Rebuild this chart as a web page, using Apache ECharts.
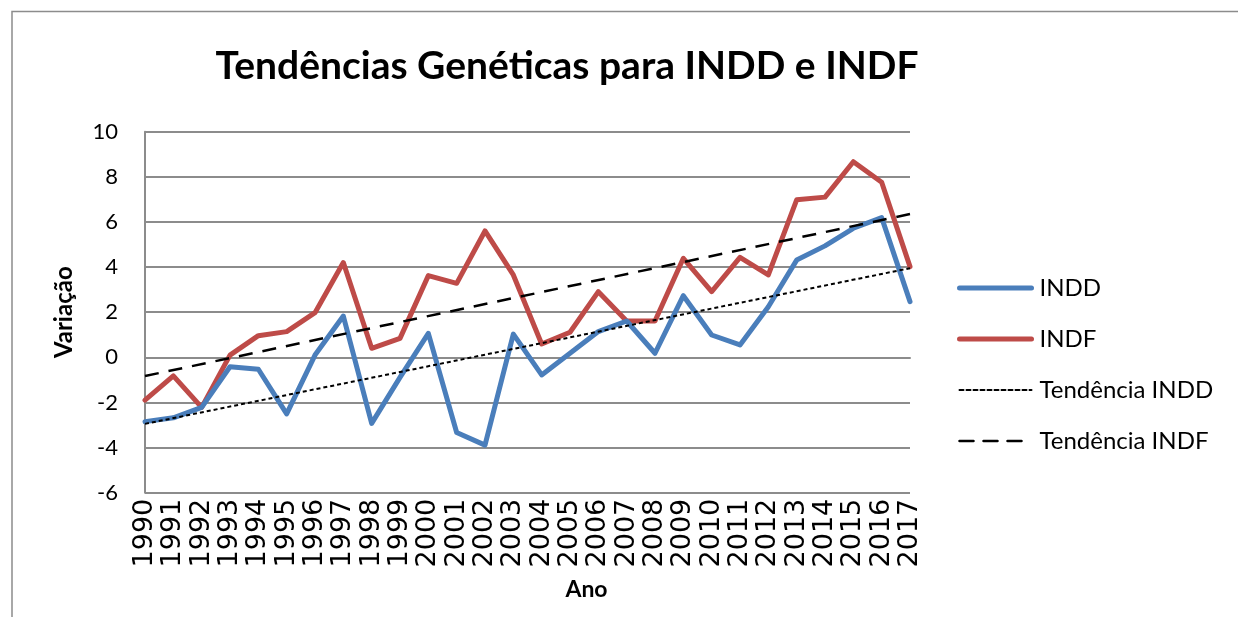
<!DOCTYPE html>
<html>
<head>
<meta charset="utf-8">
<script src="https://cdn.jsdelivr.net/npm/echarts@6/dist/echarts.min.js"></script>
<style>html,body{margin:0;padding:0;background:#fff;}#c{width:1238px;height:617px;}</style>
</head>
<body>
<div id="c"></div>
<script>
const years = ['1990','1991','1992','1993','1994','1995','1996','1997','1998','1999','2000','2001','2002','2003','2004','2005','2006','2007','2008','2009','2010','2011','2012','2013','2014','2015','2016','2017'];
const indd = [-2.85,-2.68,-2.22,-0.42,-0.53,-2.51,0.1,1.83,-2.93,-0.89,1.06,-3.33,-3.89,1.03,-0.78,0.18,1.14,1.61,0.18,2.73,0.99,0.55,2.24,4.31,4.94,5.72,6.19,2.47];
const indf = [-1.9,-0.82,-2.22,0.1,0.96,1.14,1.98,4.2,0.4,0.84,3.62,3.28,5.6,3.65,0.59,1.11,2.91,1.61,1.61,4.39,2.91,4.43,3.65,6.98,7.1,8.67,7.76,4.02];
const trendIndd = [-2.95, 3.95];   // values at first and last year
const trendIndf = [-0.83, 6.35];
const yTicks = [-6,-4,-2,0,2,4,6,8,10];

const font = 'Lato';
const chart = echarts.init(document.getElementById('c'));
chart.setOption({
  backgroundColor: '#fff',
  animation: false,
  title: {
    text: 'Tendências Genéticas para INDD e INDF',
    left: 562, top: 42, textAlign: 'center',
    textStyle: {fontFamily: font, fontWeight: 'bold', fontSize: 39, color: '#000'}
  },
  graphic: [{
    type: 'polyline', silent: true,
    shape: {points: [[12, 617], [12, 11.5], [1238, 11.5]]},
    style: {stroke: '#8c8c8c', lineWidth: 1.5, fill: null}
  }],
  legend: {
    orient: 'vertical', left: 952, top: 271,
    itemWidth: 72, itemHeight: 20, itemGap: 27,
    itemStyle: {opacity: 0},
    lineStyle: {width: 'inherit', cap: 'round'},
    textStyle: {fontFamily: font, fontSize: 24, color: '#000', padding: [0,0,0,3]},
    data: ['INDD','INDF','Tendência INDD','Tendência INDF']
  },
  grid: {left: 145, right: 328, top: 131.7, bottom: 124.3, containLabel: false},
  xAxis: {
    type: 'category', data: years, boundaryGap: false,
    name: 'Ano', nameLocation: 'middle', nameGap: 85,
    nameTextStyle: {fontFamily: font, fontWeight: 'bold', fontSize: 23, color: '#000', padding: [0,0,0,118]},
    axisLine: {lineStyle: {color: '#8c8c8c', width: 2}},
    axisTick: {show: false},
    axisLabel: {rotate: 90, interval: 0, margin: 6, fontFamily: 'DejaVu Sans', fontSize: 27, color: '#000'},
    splitLine: {show: false}
  },
  yAxis: {
    type: 'value', min: -6, max: 10, interval: 2,
    name: 'Variação', nameLocation: 'middle', nameGap: 69,
    nameTextStyle: {fontFamily: font, fontWeight: 'bold', fontSize: 24, color: '#000'},
    axisLine: {show: true, lineStyle: {color: '#8c8c8c', width: 2}},
    axisTick: {show: false},
    axisLabel: {margin: 27, fontFamily: font, fontSize: 22, color: '#000',
      formatter: v => yTicks.includes(v) ? String(v) : ''},
    splitLine: {lineStyle: {color: '#8c8c8c', width: 2}}
  },
  series: [
    {name: 'INDD', type: 'line', data: indd, symbol: 'none', z: 3,
     itemStyle: {color: '#4a7ebb'}, lineStyle: {color: '#4a7ebb', width: 5, cap: 'round', join: 'round'}},
    {name: 'INDF', type: 'line', data: indf, symbol: 'none', z: 2,
     itemStyle: {color: '#be4b48'}, lineStyle: {color: '#be4b48', width: 5, cap: 'round', join: 'round'}},
    {name: 'Tendência INDD', type: 'line', symbol: 'none', z: 4,
     data: [[years[0], trendIndd[0]], [years[years.length-1], trendIndd[1]]],
     itemStyle: {color: '#000'}, lineStyle: {color: '#000', width: 2, type: [4, 3]}},
    {name: 'Tendência INDF', type: 'line', symbol: 'none', z: 4,
     data: [[years[0], trendIndf[0]], [years[years.length-1], trendIndf[1]]],
     itemStyle: {color: '#000'}, lineStyle: {color: '#000', width: 2.5, type: [14, 10]}}
  ]
});
</script>
</body>
</html>
